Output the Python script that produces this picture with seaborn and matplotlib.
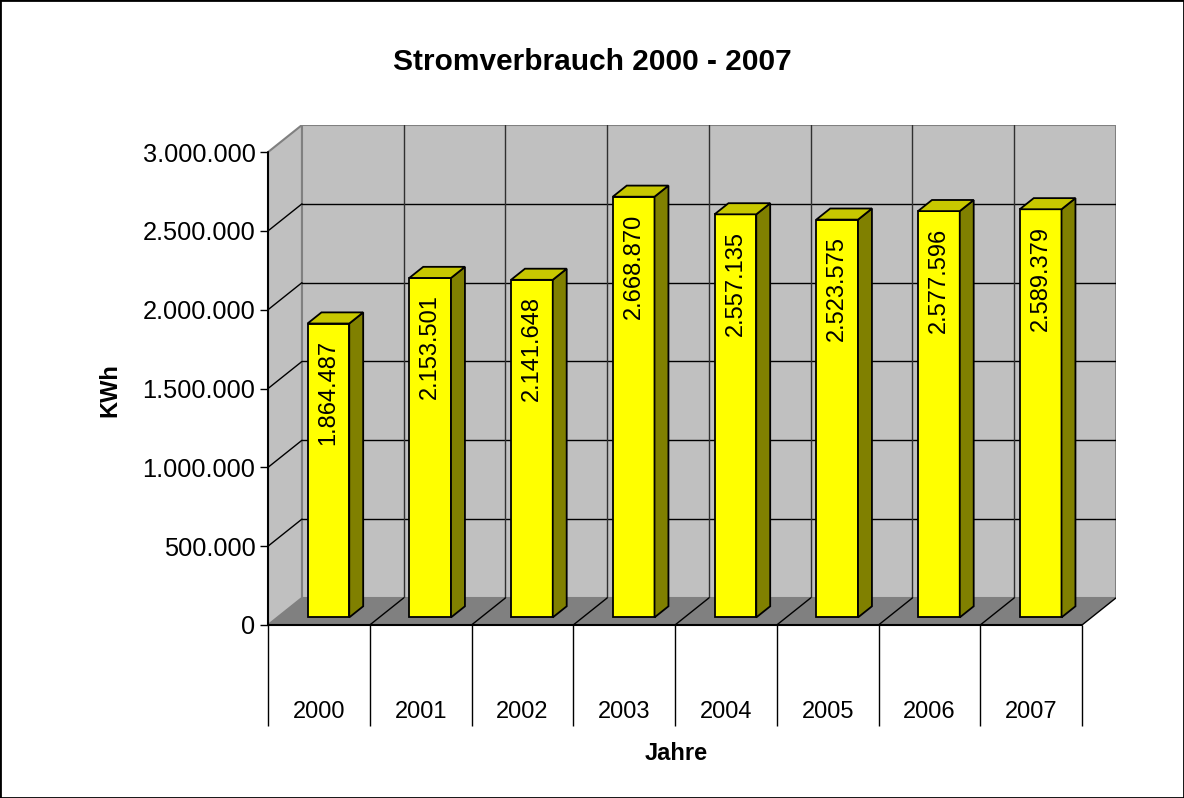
import numpy as np
import pandas as pd
import seaborn as sns
import matplotlib.pyplot as plt
from matplotlib.patches import Polygon, Rectangle
from matplotlib.ticker import FuncFormatter

# data
years = ["2000", "2001", "2002", "2003", "2004", "2005", "2006", "2007"]
kwh = [1864487, 2153501, 2141648, 2668870, 2557135, 2523575, 2577596, 2589379]
y_ticks = [0, 500000, 1000000, 1500000, 2000000, 2500000, 3000000]

df = pd.DataFrame({"Jahr": years, "KWh": kwh})

def de(v):
    return f"{v:,}".replace(",", ".")

# 3d look (oblique projection, in data units)
DX = 0.334        # full depth, x
DY = 172000       # full depth, y
F = 0.28          # depth of bar front face
BD = 0.41         # bar depth
YMAX = 3000000
n = len(years)

sns.set_theme(style="white")
plt.rcParams["font.family"] = ["Liberation Sans", "DejaVu Sans"]
plt.rcParams.update({"text.color": "black", "axes.labelcolor": "black",
                     "xtick.color": "black", "ytick.color": "black"})

fig = plt.figure(figsize=(11.84, 7.98), dpi=100)
ax = fig.add_axes([268 / 1184, 173 / 798, 848 / 1184, 500 / 798])
ax.set_facecolor("none")

sns.barplot(data=df, x="Jahr", y="KWh", order=years, color="#FFFF00",
            width=0.41, edgecolor="black", linewidth=1.3, saturation=1,
            ax=ax, zorder=3)

# walls
side = Polygon([(-0.5, 0), (-0.5 + DX, DY), (-0.5 + DX, YMAX + DY), (-0.5, YMAX)],
               closed=True, facecolor="#C0C0C0", edgecolor="#808080", lw=1.5, zorder=0.5)
back = Rectangle((-0.5 + DX, DY), n, YMAX, facecolor="#C0C0C0",
                 edgecolor="#808080", lw=1.5, zorder=0.5)
floor = Polygon([(-0.5, 0), (n - 0.5, 0), (n - 0.5 + DX, DY), (-0.5 + DX, DY)],
                closed=True, facecolor="#808080", edgecolor="none", zorder=1.5)
for p in (side, back, floor):
    ax.add_patch(p)

for t in y_ticks[1:-1]:
    ax.plot([-0.5, -0.5 + DX], [t, t + DY], color="black", lw=1, zorder=1)
    ax.plot([-0.5 + DX, n - 0.5 + DX], [t + DY, t + DY], color="black", lw=1, zorder=1)
for i in range(1, n):
    ax.plot([i - 0.5 + DX] * 2, [DY, YMAX + DY], color="#303030", lw=1, zorder=1)
for i in range(1, n + 1):
    ax.plot([i - 0.5, i - 0.5 + DX], [0, DY], color="black", lw=1, zorder=1.6)
ax.plot([-0.5, n - 0.5], [0, 0], color="black", lw=1.5, zorder=1.6, clip_on=False)
ax.plot([-0.5, -0.5], [0, YMAX], color="black", lw=1.5, zorder=1.6, clip_on=False)

# shift seaborn bars back to their depth and add side / top faces
for bar, v in zip(ax.patches[:n], kwh):
    bar.set_x(bar.get_x() + F * DX)
    bar.set_y(F * DY)
    x0 = bar.get_x()
    x1 = x0 + bar.get_width()
    b = F * DY
    top = b + v
    bdx, bdy = BD * DX, BD * DY
    ax.add_patch(Polygon([(x1, b), (x1 + bdx, b + bdy), (x1 + bdx, top + bdy), (x1, top)],
                         closed=True, facecolor="#808000", edgecolor="black", lw=1.3, zorder=3))
    ax.add_patch(Polygon([(x0, top), (x1, top), (x1 + bdx, top + bdy), (x0 + bdx, top + bdy)],
                         closed=True, facecolor="#C8C800", edgecolor="black", lw=1.3, zorder=3))
    ax.annotate(de(v), ((x0 + x1) / 2, top), xytext=(0, -12), textcoords="offset points",
                rotation=90, ha="center", va="top", fontsize=17, zorder=4)

ax.set_xlim(-0.5, n - 0.5 + DX)
ax.set_ylim(0, YMAX + DY)
for s in ax.spines.values():
    s.set_visible(False)

ax.set_yticks(y_ticks)
ax.yaxis.set_major_formatter(FuncFormatter(lambda v, p: de(int(v))))
ax.tick_params(axis="y", left=True, length=6, width=1, color="black", labelsize=18.3, pad=3)

ax.set_xticks(np.arange(n + 1) - 0.5)
ax.set_xticklabels([""] * (n + 1))
ax.set_xticks(np.arange(n), minor=True)
ax.set_xticklabels(years, minor=True)
ax.tick_params(axis="x", which="major", bottom=True, length=73, width=1, color="black")
ax.tick_params(axis="x", which="minor", bottom=False, length=0, labelsize=17, pad=55)

ax.set_xlabel("")
ax.set_ylabel("")
fig.text(110 / 1184, 1 - 390 / 798, "KWh", rotation=90, ha="center", va="center",
         fontsize=17, fontweight="bold")
fig.text(676 / 1184, 1 - 753 / 798, "Jahre", ha="center", va="center",
         fontsize=17, fontweight="bold")
fig.text(0.5, 1 - 62 / 798, "Stromverbrauch 2000 - 2007", ha="center", va="center",
         fontsize=21.5, fontweight="bold")

fig.patches.append(Rectangle((0, 0), 1, 1, transform=fig.transFigure, fill=False,
                             edgecolor="black", lw=2))

fig.savefig("out.png", dpi=100)
